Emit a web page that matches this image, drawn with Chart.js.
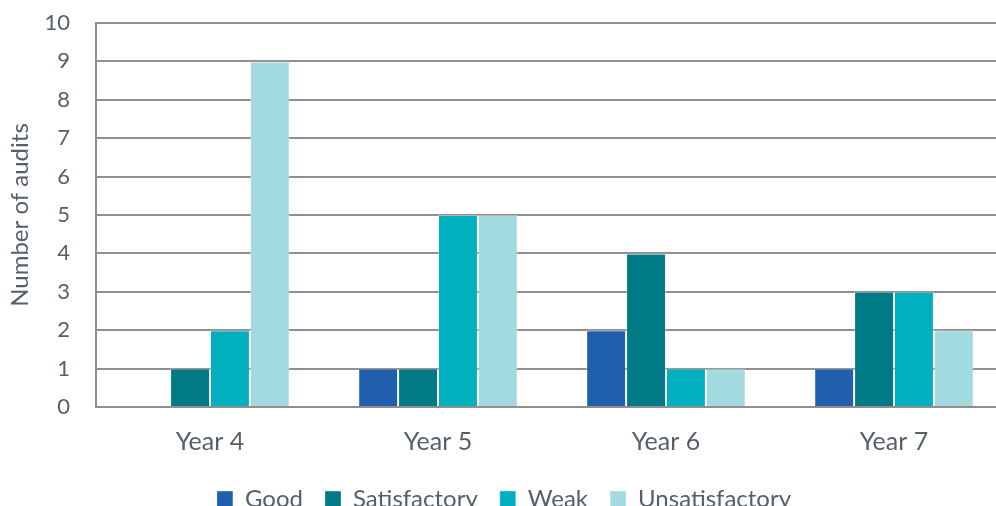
<!DOCTYPE html>
<html>
<head>
<meta charset="utf-8">
<script src="https://cdn.jsdelivr.net/npm/chart.js@4"></script>
<style>
  html, body { margin: 0; padding: 0; background: #fff; }
  #wrap { width: 996px; height: 506px; overflow: hidden; }
</style>
</head>
<body>
<div id="wrap"><canvas id="audits" width="1012" height="506"></canvas></div>
<script>
// audit results per year
const years = ["Year 4", "Year 5", "Year 6", "Year 7"];
const good = [0, 1, 2, 1];
const satisfactory = [1, 1, 4, 3];
const weak = [2, 5, 1, 3];
const unsatisfactory = [9, 5, 1, 2];
const yTicks = [0, 1, 2, 3, 4, 5, 6, 7, 8, 9, 10];

const textColor = "#56606b";
const gridColor = "#8f8f8f";
const fontFamily = "Lato, 'Open Sans', sans-serif";

function series(label, data, color) {
    return {
        label: label,
        data: data,
        backgroundColor: color,
        borderColor: "rgba(255,255,255,0.35)",
        borderWidth: 1,
        categoryPercentage: 0.7,
        barPercentage: 1.0
    };
}

let c = document.getElementById("audits").getContext("2d");
let chart = new Chart(c, {
    type: "bar",
    data: {
        labels: years,
        datasets: [
            series("Good", good, "#1f5fad"),
            series("Satisfactory", satisfactory, "#007a87"),
            series("Weak", weak, "#00b0be"),
            series("Unsatisfactory", unsatisfactory, "#a3dadf")
        ]
    },
    options: {
        responsive: false,
        animation: false,
        layout: {
            padding: { left: 0, right: 4, top: 23, bottom: -15 }
        },
        plugins: {
            tooltip: { enabled: false },
            legend: {
                position: "bottom",
                labels: {
                    color: textColor,
                    font: { family: fontFamily, size: 24 },
                    boxWidth: 16,
                    boxHeight: 16,
                    padding: 22
                }
            }
        },
        scales: {
            x: {
                grid: { display: false },
                border: { display: true, color: gridColor, width: 2 },
                ticks: {
                    color: textColor,
                    font: { family: fontFamily, size: 25 },
                    padding: 12
                },
                afterFit: function (scale) { scale.height = 58; }
            },
            y: {
                min: 0,
                max: 10,
                afterBuildTicks: function (scale) {
                    scale.ticks = yTicks.map(v => ({ value: v }));
                },
                grid: { color: gridColor, lineWidth: 2, drawTicks: false },
                border: { display: true, color: gridColor, width: 2 },
                ticks: {
                    color: textColor,
                    font: { family: fontFamily, size: 22 },
                    padding: 26
                },
                title: {
                    display: true,
                    text: "Number of audits",
                    color: textColor,
                    font: { family: fontFamily, size: 24 },
                    padding: { top: 6, bottom: 0 }
                },
                afterFit: function (scale) {
                    scale.width = 96;
                    // keep the top/bottom tick labels from pushing the plot area in
                    scale.paddingTop = 0;
                    scale.paddingBottom = 0;
                }
            }
        }
    }
});
</script>
</body>
</html>
